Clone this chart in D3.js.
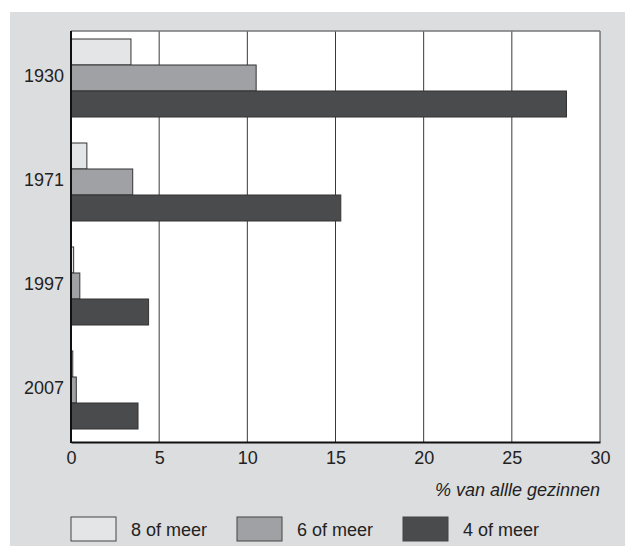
<!DOCTYPE html>
<html>
<head>
<meta charset="utf-8">
<script src="https://cdn.jsdelivr.net/npm/d3@7"></script>
<style>
  body { margin: 0; background: #fff; }
  text { font-family: "Liberation Sans", Arial, sans-serif; }
</style>
</head>
<body>
<div id="chart"></div>
<script>
// data
var years = ["1930", "1971", "1997", "2007"];
var series = ["8 of meer", "6 of meer", "4 of meer"];
var acht = [3.4, 0.9, 0.15, 0.1];
var zes = [10.5, 3.5, 0.5, 0.3];
var vier = [28.1, 15.3, 4.4, 3.8];
var ticks = [0, 5, 10, 15, 20, 25, 30];
var colors = ["#e4e5e7", "#a0a1a4", "#4a4b4d"];

(function () {
    var rows = years.map(function (y, i) {
        return { year: y, values: [acht[i], zes[i], vier[i]] };
    });

    var W = 625, H = 546;
    var fs = 18;
    var svg = d3.select("#chart").append("svg")
        .attr("width", W).attr("height", H);

    // grey panel
    svg.append("rect")
        .attr("x", 10).attr("y", 12)
        .attr("width", W - 10).attr("height", H - 12)
        .attr("fill", "#dcdddf");

    var pl = 71, pr = 600, pt = 31, pb = 442;

    svg.append("rect")
        .attr("x", pl).attr("y", pt)
        .attr("width", pr - pl).attr("height", pb - pt)
        .attr("fill", "#fff");

    var x = d3.scaleLinear().domain([0, 30]).range([pl, pr]);
    var y = d3.scaleBand().domain(years).range([39, 429]).paddingInner(0.25);
    var y1 = d3.scaleBand().domain(d3.range(3)).range([0, y.bandwidth()]);

    // grid lines
    svg.selectAll(".grid")
        .data(ticks.slice(1))
        .enter().append("line")
        .attr("x1", function (d) { return x(d); })
        .attr("x2", function (d) { return x(d); })
        .attr("y1", pt).attr("y2", pb)
        .attr("stroke", "#3a3a3a")
        .attr("stroke-width", 1);

    // top border
    svg.append("line")
        .attr("x1", pl).attr("x2", pr)
        .attr("y1", pt).attr("y2", pt)
        .attr("stroke", "#777").attr("stroke-width", 1.5);

    // bars
    var g = svg.selectAll(".grp")
        .data(rows)
        .enter().append("g")
        .attr("transform", function (d) { return "translate(0," + y(d.year) + ")"; });

    g.selectAll("rect")
        .data(function (d) { return d.values; })
        .enter().append("rect")
        .attr("x", x(0))
        .attr("y", function (d, i) { return y1(i); })
        .attr("width", function (d) { return x(d) - x(0); })
        .attr("height", y1.bandwidth())
        .attr("fill", function (d, i) { return colors[i]; })
        .attr("stroke", "#333")
        .attr("stroke-width", 1);

    // x axis
    var xAxis = svg.append("g")
        .attr("transform", "translate(0," + pb + ")")
        .call(d3.axisBottom(x).tickValues(ticks).tickSize(0).tickPadding(9));
    xAxis.select(".domain").attr("stroke", "#111").attr("stroke-width", 2);
    xAxis.selectAll("text")
        .attr("font-size", fs)
        .attr("fill", "#222")
        .style("font-family", "Liberation Sans, Arial, sans-serif");

    // y axis
    var yAxis = svg.append("g")
        .attr("transform", "translate(" + pl + ",0)")
        .call(d3.axisLeft(y).tickSize(0).tickPadding(7));
    yAxis.select(".domain").remove();
    yAxis.selectAll("text")
        .attr("font-size", fs)
        .attr("fill", "#222")
        .attr("dy", "0.2em")
        .style("font-family", "Liberation Sans, Arial, sans-serif");

    svg.append("line")
        .attr("x1", pl).attr("x2", pl)
        .attr("y1", pt).attr("y2", pb + 1)
        .attr("stroke", "#111").attr("stroke-width", 2);

    // axis title
    svg.append("text")
        .attr("x", 600).attr("y", 496)
        .attr("text-anchor", "end")
        .attr("font-size", fs)
        .attr("font-style", "italic")
        .attr("fill", "#222")
        .text("% van allle gezinnen");

    // legend
    var legX = [71, 237, 403];
    var leg = svg.selectAll(".leg")
        .data(series)
        .enter().append("g")
        .attr("transform", function (d, i) { return "translate(" + legX[i] + ",517)"; });
    leg.append("rect")
        .attr("width", 45).attr("height", 24)
        .attr("fill", function (d, i) { return colors[i]; })
        .attr("stroke", "#444");
    leg.append("text")
        .attr("x", 60).attr("y", 19)
        .attr("font-size", fs)
        .attr("fill", "#222")
        .text(function (d) { return d; });
})();
</script>
</body>
</html>
